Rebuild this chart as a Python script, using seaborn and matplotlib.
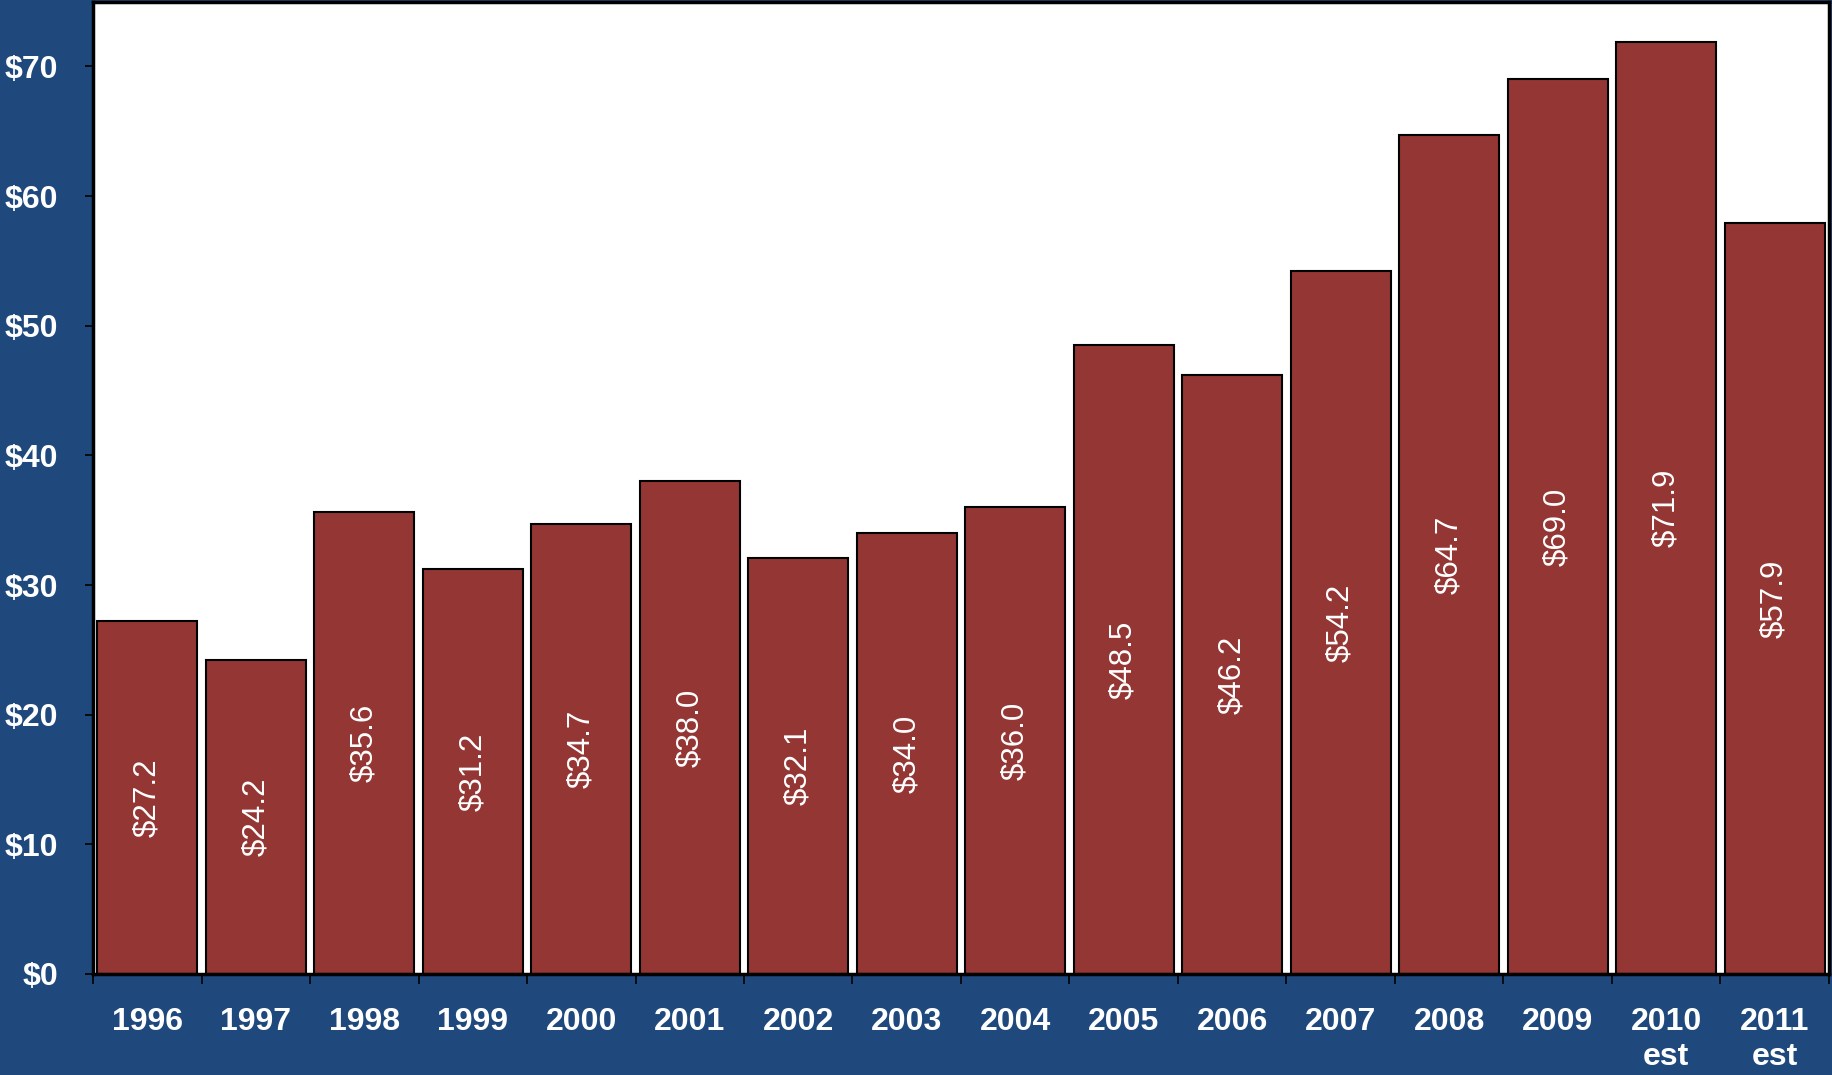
import numpy as np
import pandas as pd
import seaborn as sns
import matplotlib.pyplot as plt
from matplotlib.ticker import FixedLocator

# Chart data
years = ['1996', '1997', '1998', '1999', '2000', '2001', '2002', '2003',
         '2004', '2005', '2006', '2007', '2008', '2009', '2010\nest', '2011\nest']
values = [27.2, 24.2, 35.6, 31.2, 34.7, 38.0, 32.1, 34.0,
          36.0, 48.5, 46.2, 54.2, 64.7, 69.0, 71.9, 57.9]
y_ticks = [0, 10, 20, 30, 40, 50, 60, 70]
y_tick_labels = ['$0', '$10', '$20', '$30', '$40', '$50', '$60', '$70']

navy = '#1F497D'
bar_red = '#943634'

sns.set_style('white')
plt.rcParams['font.family'] = ['Liberation Sans', 'DejaVu Sans']

df = pd.DataFrame({'year': years, 'value': values})

fig = plt.figure(figsize=(18.32, 10.75), dpi=100, facecolor=navy)
ax = fig.add_axes([0.0508, 0.094, 0.9475, 0.9045])
ax.set_facecolor('white')

sns.barplot(data=df, x='year', y='value', color=bar_red, saturation=1,
            edgecolor='black', linewidth=1.5, width=0.92, ax=ax)

# value labels, rotated, centred inside bars
ax.bar_label(ax.containers[0], labels=[f'${v:.1f}' for v in values],
             label_type='center', rotation=90, color='white', fontsize=22.5)

ax.set_ylim(0, 75)
ax.set_xlim(-0.5, len(years) - 0.5)
ax.set_yticks(y_ticks)
ax.set_yticklabels(y_tick_labels)
ax.set_xlabel('')
ax.set_ylabel('')

# labels at category centres, tick marks at category boundaries
ax.xaxis.set_minor_locator(FixedLocator(np.arange(-0.5, len(years), 1.0)))
ax.tick_params(axis='x', which='major', length=0, pad=24,
               labelsize=23, labelcolor='white')
ax.tick_params(axis='x', which='minor', length=7, width=1.2,
               direction='out', color='black', bottom=True)
ax.tick_params(axis='y', which='major', length=6, width=1.2,
               direction='out', color='black', left=True, pad=19,
               labelsize=23, labelcolor='white')
for lab in ax.get_xticklabels() + ax.get_yticklabels():
    lab.set_fontweight('bold')
for lab in ax.get_xticklabels():
    lab.set_linespacing(1.2)
    lab.set_multialignment('center')

for side in ['left', 'top', 'right', 'bottom']:
    ax.spines[side].set_visible(True)
    ax.spines[side].set_color('black')
    ax.spines[side].set_linewidth(2.5)

fig.savefig('out.png', dpi=100, facecolor=navy)
